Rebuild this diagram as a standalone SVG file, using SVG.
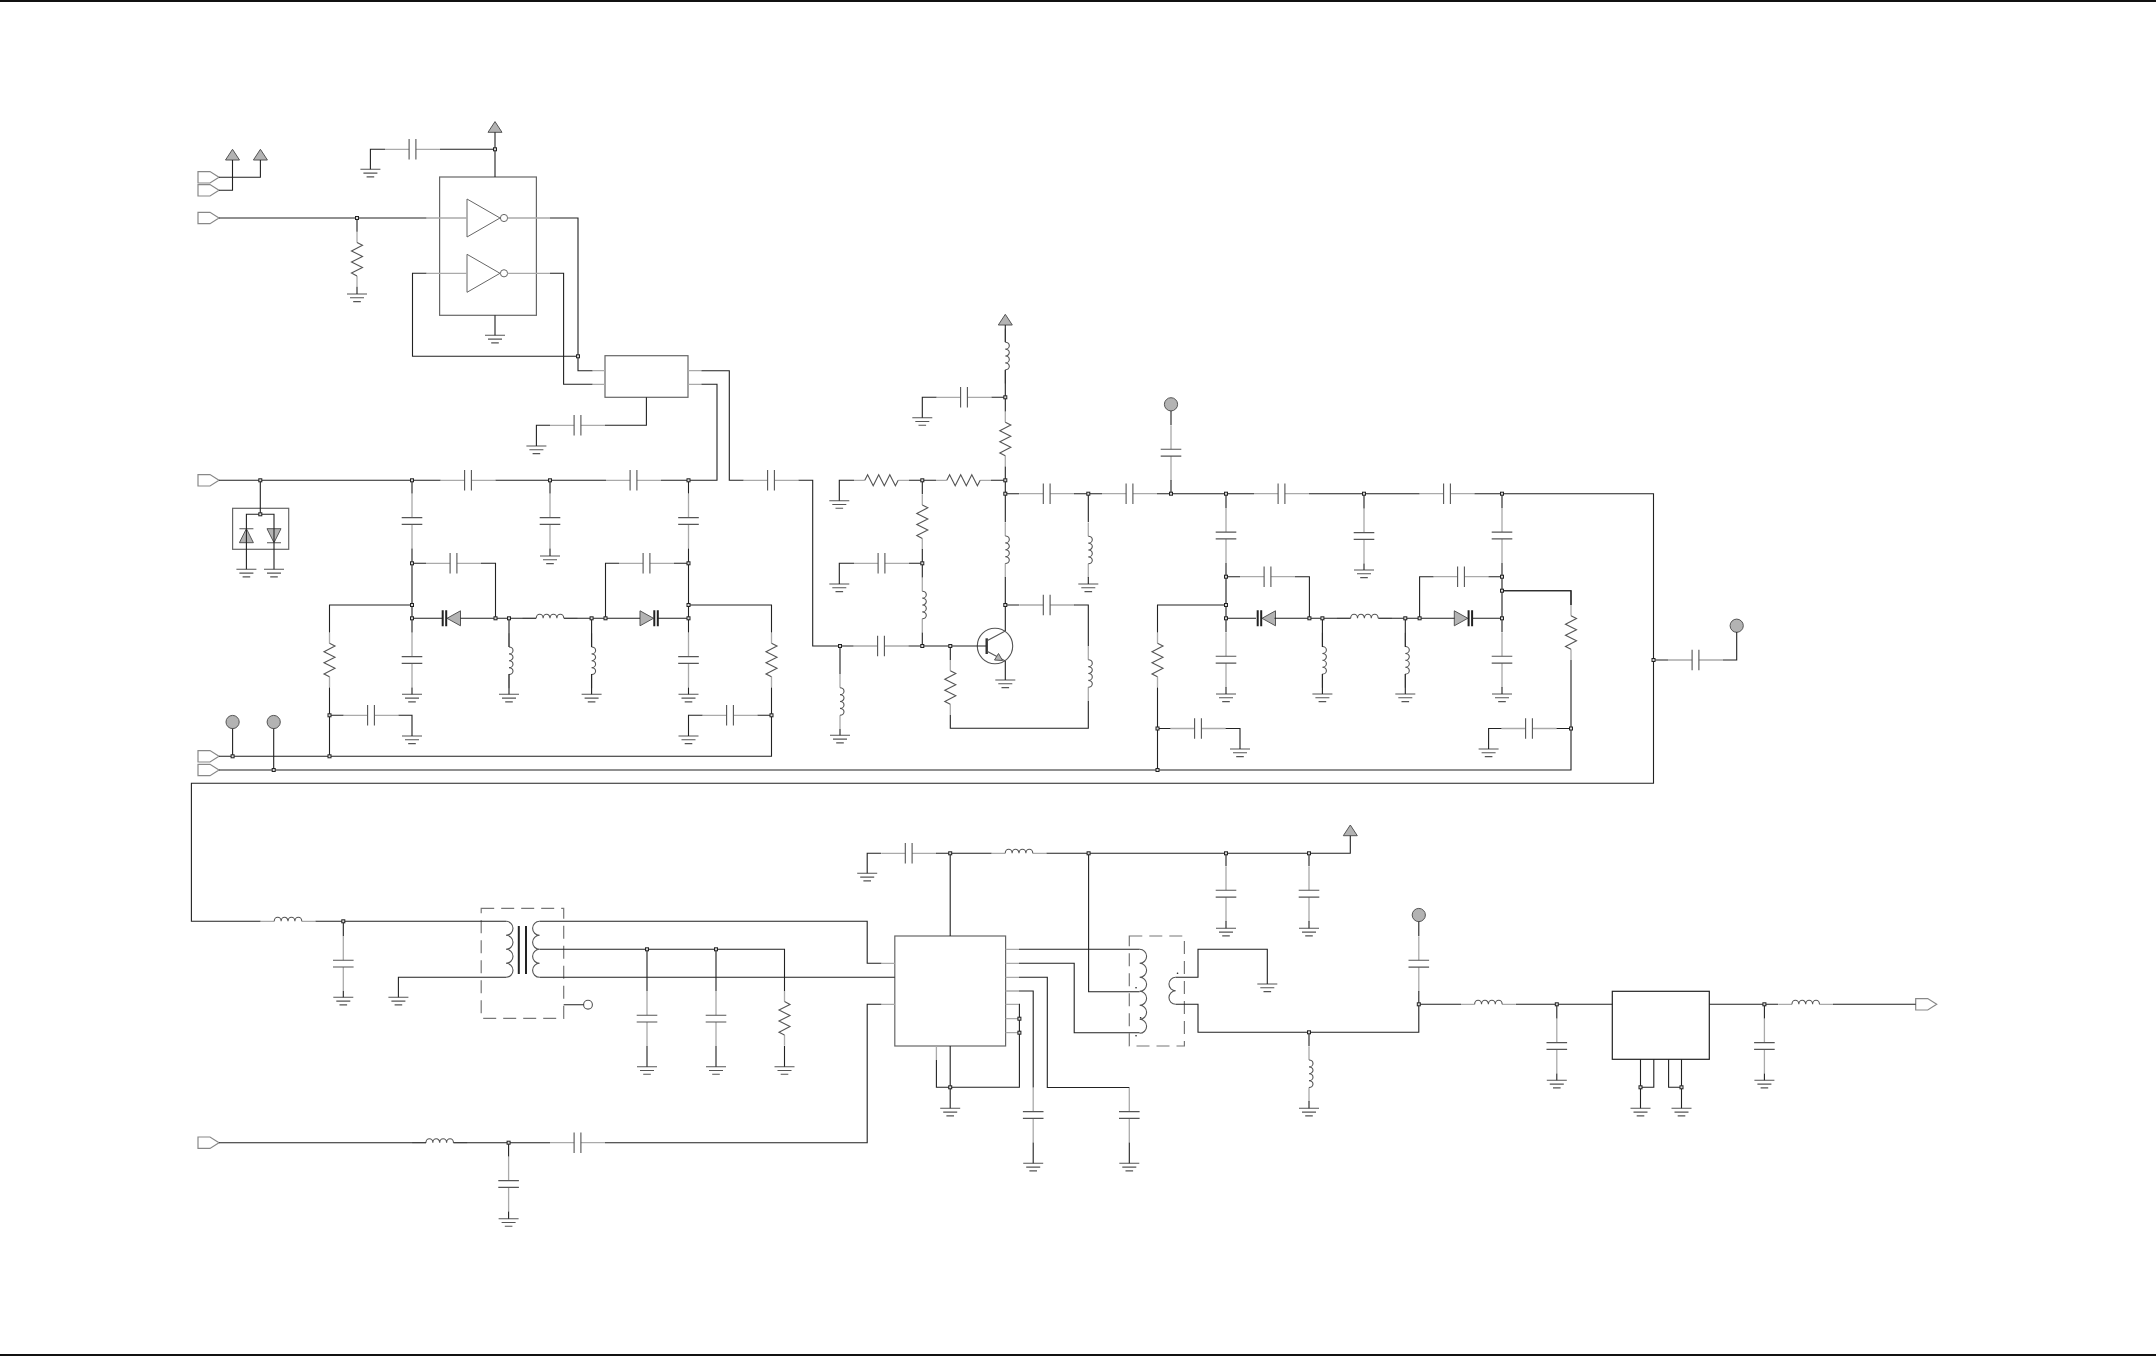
<svg xmlns="http://www.w3.org/2000/svg" width="2156" height="1356" viewBox="0 0 2156 1356">
<style>
.w{fill:none;stroke:#222;stroke-width:1.1}
.l{fill:none;stroke:#aaa;stroke-width:1.3}
.k{fill:none;stroke:#555;stroke-width:1.1}
.b{fill:#fff;stroke:#666;stroke-width:1.2}
.f{fill:#b3b3b3;stroke:#555;stroke-width:1}
.d{fill:none;stroke:#777;stroke-width:1.2;stroke-dasharray:13 7}
.t{fill:#fff;stroke:#888;stroke-width:1.2}
.j{fill:#ddd;stroke:#222;stroke-width:1}
.h{fill:none;stroke:#222;stroke-width:2}
</style>
<defs>
<g id="cap"><path class="l" d="M-27.5 0H-3.4M3.4 0H27.5"/><path class="k" d="M-3.4 -10.3V10.3M3.4 -10.3V10.3"/></g>
<g id="res"><path class="l" d="M-27.5 0H-16.7M16.7 0H27.5"/><path class="k" d="M-16.7 0L-13.9 -5.5L-8.3 5.5L-2.8 -5.5L2.8 5.5L8.3 -5.5L13.9 5.5L16.7 0"/></g>
<g id="ind"><path class="l" d="M-27.5 0H-13.75M13.75 0H27.5"/><path class="k" d="M-13.75 0a3.44 4 0 0 1 6.88 0a3.44 4 0 0 1 6.88 0a3.44 4 0 0 1 6.88 0a3.44 4 0 0 1 6.88 0"/></g>
<g id="gnd"><path class="k" d="M-10 0H10M-7 3.8H7M-3.8 7.6H3.8"/></g>
<polygon id="pwr" class="f" points="-7,0 0,-10.7 7,0"/>
<circle id="prb" class="f" r="6.6"/>
<rect id="j" class="j" x="-1.5" y="-1.5" width="3" height="3"/>
<polygon id="tag" class="t" points="0,-5.7 12,-5.7 21,0 12,5.7 0,5.7"/>
<g id="dio"><polygon class="f" points="-13.5,-7.5 0,0 -13.5,7.5"/><path class="h" d="M.8 -8V8M4.3 -8V8"/></g>
<g id="inv"><polygon class="b" style="stroke-width:1" points="0,-19 0,19 33,0"/><circle class="b" style="stroke-width:1" cx="37" cy="0" r="3.6"/><path class="l" d="M-40.6 0H0M40.6 0H83"/></g>
</defs>
<rect width="2156" height="1356" fill="#fff"/>
<path d="M0 1H2156M0 1355H2156" fill="none" stroke="#111" stroke-width="2"/>

<g id="nodes">
<g id="P1"><use href="#pwr" x="232.5" y="160"/></g>
<g id="P2"><use href="#pwr" x="260.4" y="160"/></g>
<g id="P3"><use href="#pwr" x="495" y="132.3"/></g>
<g id="P4"><use href="#pwr" x="1005.3" y="325"/></g>
<g id="P5"><use href="#pwr" x="1350.3" y="835.7"/></g>
<g id="T1"><use href="#tag" x="198" y="177.3"/></g>
<g id="T2"><use href="#tag" x="198" y="190.3"/></g>
<g id="T3"><use href="#tag" x="198" y="218"/></g>
<g id="T4"><use href="#tag" x="198" y="480.3"/></g>
<g id="T5"><use href="#tag" x="198" y="756.3"/></g>
<g id="T6"><use href="#tag" x="198" y="770"/></g>
<g id="T7"><use href="#tag" x="198" y="1142.7"/></g>
<g id="T8"><use href="#tag" x="1915.7" y="1004.3"/></g>
<g id="TP1"><use href="#prb" x="232.6" y="722"/></g>
<g id="TP2"><use href="#prb" x="273.7" y="722"/></g>
<g id="TP3"><use href="#prb" x="1171" y="404.3"/></g>
<g id="TP4"><use href="#prb" x="1736.7" y="625.7"/></g>
<g id="TP5"><use href="#prb" x="1418.8" y="915"/></g>

<g id="U1"><rect class="b" x="439.6" y="177" width="96.8" height="138.3"/><use href="#inv" x="467" y="218"/><use href="#inv" x="467" y="273.3"/></g>
<g id="U2"><rect class="b" x="605" y="355.7" width="83" height="41.6"/><path class="l" d="M592.5 370.7H605M592.5 384.3H605M688 370.7H701.4M688 384.3H701.4"/></g>
<g id="D0"><rect class="b" style="fill:none" x="232.6" y="508.3" width="56.1" height="41"/><polygon class="f" points="239.4,542.7 246.4,528.7 253.4,542.7"/><path class="k" d="M239.4 528.7H253.4M267 542.7H281"/><polygon class="f" points="267,528.7 281,528.7 274,542.7"/></g>
<g id="R1"><use href="#res" transform="translate(357 259.2) rotate(90)"/></g>
<g id="C1"><use href="#cap" x="412.5" y="149.3"/></g>
<g id="C2"><use href="#cap" x="577.5" y="425.3"/></g>

<g id="C3"><use href="#cap" x="468" y="480.3"/></g>
<g id="C4"><use href="#cap" x="633.5" y="480.3"/></g>
<g id="C5"><use href="#cap" x="771" y="480.3"/></g>
<g id="C6"><use href="#cap" transform="translate(412 521) rotate(90)"/></g>
<g id="C7"><use href="#cap" transform="translate(550 521) rotate(90)"/></g>
<g id="C8"><use href="#cap" transform="translate(688.5 521) rotate(90)"/></g>
<g id="C9"><use href="#cap" transform="translate(412 660) rotate(90)"/></g>
<g id="C10"><use href="#cap" transform="translate(688.5 660) rotate(90)"/></g>
<g id="C11"><use href="#cap" x="453.5" y="563.3"/></g>
<g id="C12"><use href="#cap" x="646.5" y="563.3"/></g>
<g id="C13"><use href="#cap" x="371" y="715.3"/></g>
<g id="C14"><use href="#cap" x="730" y="715.3"/></g>
<g id="D1"><use href="#dio" transform="translate(447 618.3) rotate(180)"/></g>
<g id="D2"><use href="#dio" x="653.5" y="618.3"/></g>
<g id="L1"><use href="#ind" x="550" y="618.3"/></g>
<g id="L2"><use href="#ind" transform="translate(509 660.7) rotate(90)"/></g>
<g id="L3"><use href="#ind" transform="translate(591.6 660.7) rotate(90)"/></g>
<g id="R2"><use href="#res" transform="translate(329.5 660) rotate(90)"/></g>
<g id="R3"><use href="#res" transform="translate(771.5 660) rotate(90)"/></g>

<g id="L4"><use href="#ind" transform="translate(1005.3 356) rotate(90)"/></g>
<g id="R4"><use href="#res" transform="translate(1005.3 439) rotate(90)"/></g>
<g id="C15"><use href="#cap" x="964" y="397.3"/></g>
<g id="R5"><use href="#res" x="881.5" y="480.3"/></g>
<g id="R6"><use href="#res" x="963.5" y="480.3"/></g>
<g id="R7"><use href="#res" transform="translate(922.3 521.7) rotate(90)"/></g>
<g id="C16"><use href="#cap" x="881.5" y="563.3"/></g>
<g id="L5"><use href="#ind" transform="translate(922.3 605) rotate(90)"/></g>
<g id="C17"><use href="#cap" x="881" y="646"/></g>
<g id="L6"><use href="#ind" transform="translate(840 701.5) rotate(90)"/></g>
<g id="R8"><use href="#res" transform="translate(950.3 687.5) rotate(90)"/></g>
<g id="L7"><use href="#ind" transform="translate(1088.3 673.5) rotate(90)"/></g>
<g id="C18"><use href="#cap" x="1046.7" y="605"/></g>
<g id="L8"><use href="#ind" transform="translate(1005.3 549.7) rotate(90)"/></g>
<g id="Q1"><circle cx="995" cy="646" r="17.7" class="k"/><rect x="985.5" y="638.3" width="2.4" height="15.7" fill="#333"/><path class="k" d="M987.5 640.5L1005.3 631M987.5 651.5L1005.3 661"/><polygon class="f" points="1002.5,660.5 994.5,660 998.5,653.5"/></g>
<g id="C19"><use href="#cap" x="1046.7" y="493.7"/></g>
<g id="C20"><use href="#cap" x="1129.5" y="493.7"/></g>
<g id="C21"><use href="#cap" x="1281.5" y="493.7"/></g>
<g id="C22"><use href="#cap" x="1447" y="493.7"/></g>
<g id="L9"><use href="#ind" transform="translate(1088.3 550) rotate(90)"/></g>
<g id="C23"><use href="#cap" transform="translate(1171 452.7) rotate(90)"/></g>
<g id="C24"><use href="#cap" transform="translate(1226 535.5) rotate(90)"/></g>
<g id="C25"><use href="#cap" transform="translate(1364 536) rotate(90)"/></g>
<g id="C26"><use href="#cap" transform="translate(1502 535.5) rotate(90)"/></g>
<g id="C27"><use href="#cap" transform="translate(1226 659.7) rotate(90)"/></g>
<g id="C28"><use href="#cap" transform="translate(1502 659.7) rotate(90)"/></g>
<g id="C29"><use href="#cap" x="1267.5" y="576.7"/></g>
<g id="C30"><use href="#cap" x="1461" y="576.7"/></g>
<g id="D3"><use href="#dio" transform="translate(1262 618.3) rotate(180)"/></g>
<g id="D4"><use href="#dio" x="1467.8" y="618.3"/></g>
<g id="L10"><use href="#ind" x="1364.4" y="618.3"/></g>
<g id="L11"><use href="#ind" transform="translate(1322.4 660.3) rotate(90)"/></g>
<g id="L12"><use href="#ind" transform="translate(1405.3 660.3) rotate(90)"/></g>
<g id="R9"><use href="#res" transform="translate(1157.5 660) rotate(90)"/></g>
<g id="R10"><use href="#res" transform="translate(1571 632.5) rotate(90)"/></g>
<g id="C31"><use href="#cap" x="1198" y="728.5"/></g>
<g id="C32"><use href="#cap" x="1529" y="728.5"/></g>
<g id="C33"><use href="#cap" x="1695.5" y="660"/></g>

<g id="L13"><use href="#ind" x="288" y="921.3"/></g>
<g id="C34"><use href="#cap" transform="translate(343.3 963.6) rotate(90)"/></g>
<g id="TR1"><rect class="d" x="481.2" y="908.3" width="82.5" height="110"/><path class="k" d="M506 921.3a7 7 0 0 1 0 14a7 7 0 0 1 0 14a7 7 0 0 1 0 14a7 7 0 0 1 0 14M539.6 921.3a7 7 0 0 0 0 14a7 7 0 0 0 0 14a7 7 0 0 0 0 14a7 7 0 0 0 0 14"/><path class="h" d="M518.8 926V974M526 926V974"/><circle class="k" cx="588" cy="1004.7" r="4.4"/></g>
<g id="C35"><use href="#cap" transform="translate(647 1018.6) rotate(90)"/></g>
<g id="C36"><use href="#cap" transform="translate(716 1018.6) rotate(90)"/></g>
<g id="R11"><use href="#res" transform="translate(784.5 1018.3) rotate(90)"/></g>
<g id="L14"><use href="#ind" x="439.7" y="1142.7"/></g>
<g id="C37"><use href="#cap" x="577.5" y="1142.7"/></g>
<g id="C38"><use href="#cap" transform="translate(508.6 1184) rotate(90)"/></g>

<g id="U3"><rect class="b" x="894.8" y="936" width="110.8" height="110"/><path class="l" d="M881.3 963.3H894.8M881.3 1004.3H894.8M1005.6 949.3H1019M1005.6 963.3H1019M1005.6 977.3H1019M1005.6 991H1019M1005.6 1004.3H1019M1005.6 1018.7H1019M1005.6 1032.7H1019M936.4 1046V1060"/></g>
<g id="C39"><use href="#cap" x="908.7" y="853.3"/></g>
<g id="L15"><use href="#ind" x="1019" y="853.3"/></g>
<g id="C40"><use href="#cap" transform="translate(1226 893.7) rotate(90)"/></g>
<g id="C41"><use href="#cap" transform="translate(1309 893.7) rotate(90)"/></g>
<g id="C42"><use href="#cap" transform="translate(1033.2 1115) rotate(90)"/></g>
<g id="C43"><use href="#cap" transform="translate(1129.3 1115) rotate(90)"/></g>
<g id="TR2"><rect class="d" x="1129.3" y="936" width="55.1" height="110"/><path class="k" d="M1139.6 949.3a7 7 0 0 1 0 14a7 7 0 0 1 0 14a7 7 0 0 1 0 14a7 7 0 0 1 0 14a7 7 0 0 1 0 14a7 7 0 0 1 0 14M1175.7 977.3a6.75 6.75 0 0 0 0 13.5a6.75 6.75 0 0 0 0 13.5"/><path d="M1136 987.7h.1M1140.6 1017.7h.1M1136 1035.7h.1M1177.5 973.3h.1" stroke="#222" stroke-width="1.6" stroke-linecap="round"/></g>
<g id="L16"><use href="#ind" transform="translate(1309 1073.7) rotate(90)"/></g>
<g id="C44"><use href="#cap" transform="translate(1418.8 963.7) rotate(90)"/></g>
<g id="L17"><use href="#ind" x="1488.4" y="1004.3"/></g>
<g id="C45"><use href="#cap" transform="translate(1556.8 1046) rotate(90)"/></g>
<g id="U4"><rect x="1612.3" y="991.3" width="97" height="68" fill="#fff" stroke="#222" stroke-width="1.2"/></g>
<g id="C46"><use href="#cap" transform="translate(1764.4 1046) rotate(90)"/></g>
<g id="L18"><use href="#ind" x="1805.7" y="1004.3"/></g>

<g id="grounds">
<use href="#gnd" x="357" y="294"/><use href="#gnd" x="370.4" y="169.3"/><use href="#gnd" x="495" y="335.3"/><use href="#gnd" x="536.4" y="446"/>
<use href="#gnd" x="246.4" y="569.3"/><use href="#gnd" x="274" y="569.3"/><use href="#gnd" x="412" y="694.3"/><use href="#gnd" x="550" y="556"/><use href="#gnd" x="688.5" y="694.3"/><use href="#gnd" x="509" y="694.3"/><use href="#gnd" x="591.6" y="694.3"/><use href="#gnd" x="412" y="736"/><use href="#gnd" x="688.5" y="736"/>
<use href="#gnd" x="922.3" y="417.7"/><use href="#gnd" x="839.3" y="500.7"/><use href="#gnd" x="839.3" y="584"/><use href="#gnd" x="840" y="735.3"/><use href="#gnd" x="1005.3" y="680"/><use href="#gnd" x="1088.3" y="584"/>
<use href="#gnd" x="1226" y="694"/><use href="#gnd" x="1364" y="570"/><use href="#gnd" x="1502" y="694"/><use href="#gnd" x="1322.4" y="694"/><use href="#gnd" x="1405.3" y="694"/><use href="#gnd" x="1240" y="749"/><use href="#gnd" x="1488.6" y="749"/>
<use href="#gnd" x="343.3" y="997.3"/><use href="#gnd" x="398.4" y="997.3"/><use href="#gnd" x="647" y="1066.7"/><use href="#gnd" x="716" y="1066.7"/><use href="#gnd" x="784.5" y="1066.7"/><use href="#gnd" x="508.6" y="1218.7"/>
<use href="#gnd" x="867.2" y="873.3"/><use href="#gnd" x="1226" y="928.3"/><use href="#gnd" x="1309" y="928.3"/><use href="#gnd" x="950.2" y="1108.3"/><use href="#gnd" x="1033.2" y="1163.3"/><use href="#gnd" x="1129.3" y="1163.3"/><use href="#gnd" x="1267.3" y="984"/><use href="#gnd" x="1309" y="1108.3"/>
<use href="#gnd" x="1556.8" y="1080.3"/><use href="#gnd" x="1764.4" y="1080.3"/><use href="#gnd" x="1640.5" y="1108.3"/><use href="#gnd" x="1681.5" y="1108.3"/>
</g>
</g>

<g id="connectors">
<path class="w" d="M219 177.3H260.4V160M219 190.3H232.5V160M219 218H426.4M357 218V231.7M357 286.7V294M495 132.3V177M495 149.3H440M385 149.3H370.4V169.3M495 315.3V335.3M550 218H578V370.7H592.5M550 273.3H563.6V384.3H592.5M426.4 273.3H412.5V356.3H578M701.4 370.7H729.3V480.3H743.5M701.4 384.3H717V480.3H661M646.4 397.3V425.3H605M550 425.3H536.4V446"/>
<path class="w" d="M219 480.3H440.5M495.5 480.3H606M260.3 480.3V514.3M246.4 569.3V514.3H274V569.3"/>
<path class="w" d="M412 480.3V493.5M412 548.5V632.5M412 687.5V694.3M550 480.3V493.5M550 548.5V556M688.5 480.3V493.5M688.5 548.5V632.5M688.5 687.5V694.3"/>
<path class="w" d="M412 563.3H426M481 563.3H495.5V618.3M688.5 563.3H674M619 563.3H605.5V618.3M412 618.3H443M460.5 618.3H536M564 618.3H640M657.5 618.3H688.5"/>
<path class="w" d="M509 618.3V647M509 674V694.3M591.6 618.3V647M591.6 674V694.3"/>
<path class="w" d="M412 605H329.5V632.5M329.5 687.5V756.3M329.5 715.3H343.5M398.5 715.3H412V736M688.5 605H771.5V632.5M771.5 687.5V756.3H219M771.5 715.3H757.5M702.5 715.3H688.5V736M232.6 728.5V756.3M273.7 728.5V770M219 770H1571V660M1571 605V590.7H1502"/>
<path class="w" d="M1005.3 325V342M1005.3 370V411.5M1005.3 466.5V522M1005.3 577V631M1005.3 661V680M1005.3 397.3H991.5M936.5 397.3H922.3V417.7M839.3 500.7V480.3H854M909 480.3H936M991 480.3H1005.3M922.3 480.3V494M922.3 549V577.5M922.3 632.5V646M922.3 563.3H909M854 563.3H839.3V584M798.5 480.3H812.7V646H853.5M908.5 646H986M840 646V674M840 729V735.3M950.3 646V660M950.3 715V728.3H1088.3V701M1088.3 646V605H1074M1019 605H1005.3"/>
<path class="w" d="M1005.3 493.7H1019M1074 493.7H1102M1157 493.7H1254M1309 493.7H1419.5M1474.5 493.7H1653.5V783.3H191.4V921.3H260.5M1088.3 493.7V522M1088.3 577V584M1171 411V425M1171 480V493.7"/>
<path class="w" d="M1226 493.7V508M1226 563V632M1226 687V694M1364 493.7V508.5M1364 563.5V570M1502 493.7V508M1502 563V632M1502 687V694M1226 576.7H1240M1295 576.7H1309.4V618.3M1502 576.7H1488.5M1433.5 576.7H1419.6V618.3M1226 618.3H1256M1274.5 618.3H1350.5M1378.5 618.3H1454.5M1472 618.3H1502M1322.4 618.3V647M1322.4 674V694M1405.3 618.3V647M1405.3 674V694"/>
<path class="w" d="M1226 605H1157.5V632.5M1157.5 687.5V770M1157.5 728.5H1170.5M1225.5 728.5H1240V749M1502 590.7H1571V605M1571 728.5H1556.5M1501.5 728.5H1488.6V749M1653.5 660H1668M1723 660H1736.7V632"/>
<path class="w" d="M315.5 921.3H506M343.3 921.3V936M343.3 991V997.3M398.4 997.3V977.3H506M539.6 921.3H867.2V963.3H881.3M539.6 949.3H784.5V991M784.5 1046V1066.7M647 949.3V991M647 1046V1066.7M716 949.3V991M716 1046V1066.7M539.6 977.3H894.8M563.7 1004.7H583.6"/>
<path class="w" d="M219 1142.7H426M453.5 1142.7H550M605 1142.7H867.2V1004.3H881.3M508.6 1142.7V1156.5M508.6 1211.5V1218.7"/>
<path class="w" d="M881 853.3H867.2V873.3M936 853.3H991.5M1046.5 853.3H1350.3V835.7M950.2 853.3V936M1226 853.3V866M1226 921V928.3M1309 853.3V866M1309 921V928.3"/>
<path class="w" d="M1019 949.3H1139.6M1019 963.3H1074.2V1032.7H1139.6M1019 977.3H1047.3V1087.5H1129.3M1019 991H1033.2V1087.5M1033.2 1142.5V1163.3M1129.3 1142.5V1163.3M1019 1004.3H1019.4V1087.3H936.4V1060M950.2 1046V1108.3M1088.6 853.3V991.7H1139.6"/>
<path class="w" d="M1175.7 977.3H1198V949.3H1267.3V984M1175.7 1004.3H1198V1032.3H1418.8V991M1418.8 921.6V936M1309 1032.3V1046M1309 1101V1108.3M1418.8 1004.3H1461M1516 1004.3H1612.3M1556.8 1004.3V1018.5M1556.8 1073.5V1080.3M1709.3 1004.3H1778M1764.4 1004.3V1018.5M1764.4 1073.5V1080.3M1833 1004.3H1915.7M1640.5 1059.3V1108.3M1653.8 1059.3V1087.3H1640.5M1668.6 1059.3V1087.3H1681.5M1681.5 1059.3V1108.3"/>
<g id="junctions">
<use href="#j" x="357" y="218"/><use href="#j" x="495" y="149.3"/><use href="#j" x="578" y="356.3"/><use href="#j" x="260.3" y="480.3"/><use href="#j" x="260.3" y="514.3"/><use href="#j" x="412" y="480.3"/><use href="#j" x="550" y="480.3"/><use href="#j" x="688.5" y="480.3"/>
<use href="#j" x="412" y="563.3"/><use href="#j" x="412" y="605"/><use href="#j" x="412" y="618.3"/><use href="#j" x="688.5" y="563.3"/><use href="#j" x="688.5" y="605"/><use href="#j" x="688.5" y="618.3"/><use href="#j" x="495.5" y="618.3"/><use href="#j" x="509" y="618.3"/><use href="#j" x="591.6" y="618.3"/><use href="#j" x="605.5" y="618.3"/>
<use href="#j" x="329.5" y="715.3"/><use href="#j" x="329.5" y="756.3"/><use href="#j" x="771.5" y="715.3"/><use href="#j" x="232.6" y="756.3"/><use href="#j" x="273.7" y="770"/>
<use href="#j" x="1005.3" y="397.3"/><use href="#j" x="1005.3" y="480.3"/><use href="#j" x="1005.3" y="493.7"/><use href="#j" x="1005.3" y="605"/><use href="#j" x="922.3" y="480.3"/><use href="#j" x="922.3" y="563.3"/><use href="#j" x="922.3" y="646"/><use href="#j" x="950.3" y="646"/><use href="#j" x="840" y="646"/>
<use href="#j" x="1088.3" y="493.7"/><use href="#j" x="1171" y="493.7"/><use href="#j" x="1226" y="493.7"/><use href="#j" x="1364" y="493.7"/><use href="#j" x="1502" y="493.7"/><use href="#j" x="1226" y="576.7"/><use href="#j" x="1226" y="605"/><use href="#j" x="1226" y="618.3"/><use href="#j" x="1502" y="576.7"/><use href="#j" x="1502" y="590.7"/><use href="#j" x="1502" y="618.3"/><use href="#j" x="1309.4" y="618.3"/><use href="#j" x="1322.4" y="618.3"/><use href="#j" x="1405.3" y="618.3"/><use href="#j" x="1419.6" y="618.3"/>
<use href="#j" x="1157.5" y="728.5"/><use href="#j" x="1157.5" y="770"/><use href="#j" x="1571" y="728.5"/><use href="#j" x="1653.5" y="660"/>
<use href="#j" x="343.3" y="921.3"/><use href="#j" x="647" y="949.3"/><use href="#j" x="716" y="949.3"/><use href="#j" x="508.6" y="1142.7"/>
<use href="#j" x="950.2" y="853.3"/><use href="#j" x="1088.6" y="853.3"/><use href="#j" x="1226" y="853.3"/><use href="#j" x="1309" y="853.3"/><use href="#j" x="1019.4" y="1018.7"/><use href="#j" x="1019.4" y="1032.7"/><use href="#j" x="950.2" y="1087.3"/><use href="#j" x="1309" y="1032.3"/>
<use href="#j" x="1418.8" y="1004.3"/><use href="#j" x="1556.8" y="1004.3"/><use href="#j" x="1764.4" y="1004.3"/><use href="#j" x="1640.5" y="1087.3"/><use href="#j" x="1681.5" y="1087.3"/>
</g>
</g>
</svg>
